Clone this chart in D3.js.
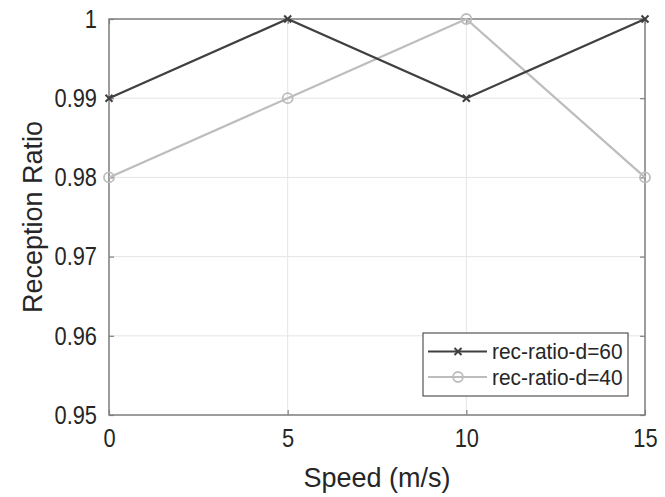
<!DOCTYPE html>
<html>
<head>
<meta charset="utf-8">
<script src="https://cdn.jsdelivr.net/npm/d3@7"></script>
<style>
  html, body { margin: 0; padding: 0; background: #fff; }
  svg { display: block; }
  text { font-family: "Liberation Sans", Arial, Helvetica, sans-serif; fill: #262626; }
</style>
</head>
<body>
<svg id="chart" width="665" height="497"></svg>
<script>
const speeds = [0, 5, 10, 15];
const recRatioD60 = [0.99, 1.00, 0.99, 1.00];
const recRatioD40 = [0.98, 0.99, 1.00, 0.98];
const seriesNames = ["rec-ratio-d=60", "rec-ratio-d=40"];
const xTicks = [0, 5, 10, 15];
const yTicks = [0.95, 0.96, 0.97, 0.98, 0.99, 1];
const yTickLabels = ["0.95", "0.96", "0.97", "0.98", "0.99", "1"];
const xLabel = "Speed (m/s)";
const yLabel = "Reception Ratio";

const svg = d3.select("#chart");
const L = 109, R = 645, T = 19, B = 415;
const x = d3.scaleLinear().domain([0, 15]).range([L, R]);
const y = d3.scaleLinear().domain([0.95, 1]).range([B, T]);

const axisColor = "#808080";
const gridColor = "#e5e5e5";
const narrow = 0.84;

// grid
svg.append("g").selectAll("line").data(xTicks).join("line")
  .attr("x1", d => x(d)).attr("x2", d => x(d)).attr("y1", T).attr("y2", B)
  .attr("stroke", gridColor).attr("stroke-width", 1);
svg.append("g").selectAll("line").data(yTicks).join("line")
  .attr("x1", L).attr("x2", R).attr("y1", d => y(d)).attr("y2", d => y(d))
  .attr("stroke", gridColor).attr("stroke-width", 1);

// axes (MATLAB-style, inward ticks, box)
const tickLen = 5;
const xAxisB = d3.axisBottom(x).tickValues(xTicks).tickSize(-tickLen).tickFormat(d3.format("d")).tickPadding(14);
const yAxisL = d3.axisLeft(y).tickValues(yTicks).tickSize(-tickLen).tickFormat((d, i) => yTickLabels[i]).tickPadding(12);
const xAxisT = d3.axisTop(x).tickValues(xTicks).tickSize(-tickLen).tickFormat("");
const yAxisR = d3.axisRight(y).tickValues(yTicks).tickSize(-tickLen).tickFormat("");

function styleAxis(g) {
  g.selectAll(".tick line").attr("stroke", axisColor).attr("stroke-width", 1.2);
  g.selectAll(".tick text").attr("fill", "#262626").style("font-size", "26px");
}
svg.append("g").attr("transform", `translate(0,${B})`).call(xAxisB).call(styleAxis)
  .call(g => g.selectAll(".tick text").attr("dy", "0.71em")
    .attr("transform", `scale(${narrow},1)`));
svg.append("g").attr("transform", `translate(${L},0)`).call(yAxisL).call(styleAxis)
  .call(g => g.selectAll(".tick text").each(function () {
    const t = d3.select(this);
    t.attr("x", +t.attr("x") / narrow).attr("transform", `scale(${narrow},1)`);
  }));
svg.append("g").attr("transform", `translate(0,${T})`).call(xAxisT).call(styleAxis);
svg.append("g").attr("transform", `translate(${R},0)`).call(yAxisR).call(styleAxis);
svg.selectAll(".domain").remove();
// box
svg.append("rect").attr("x", L).attr("y", T).attr("width", R - L).attr("height", B - T)
  .attr("fill", "none").attr("stroke", axisColor).attr("stroke-width", 1.5);

// axis labels
svg.append("text").attr("x", (L + R) / 2).attr("y", 487).attr("text-anchor", "middle")
  .style("font-size", "27px").text(xLabel);
svg.append("text").attr("transform", `translate(42,${(T + B) / 2}) rotate(-90)`)
  .attr("text-anchor", "middle").style("font-size", "27px").text(yLabel);

// series
const colors = ["#404040", "#bdbdbd"];
const data = [
  speeds.map((s, i) => ({ x: s, y: recRatioD60[i] })),
  speeds.map((s, i) => ({ x: s, y: recRatioD40[i] }))
];
const line = d3.line().x(d => x(d.x)).y(d => y(d.y));

function drawCross(g, cx, cy, c) {
  const r = 3.5;
  g.append("path").attr("d", `M${cx - r},${cy - r}L${cx + r},${cy + r}M${cx - r},${cy + r}L${cx + r},${cy - r}`)
    .attr("stroke", c).attr("stroke-width", 2).attr("fill", "none");
}
function drawCircle(g, cx, cy, c) {
  g.append("circle").attr("cx", cx).attr("cy", cy).attr("r", 5)
    .attr("stroke", c).attr("stroke-width", 1.8).attr("fill", "none");
}

[1, 0].forEach(k => {
  const g = svg.append("g");
  g.append("path").datum(data[k]).attr("d", line).attr("fill", "none")
    .attr("stroke", colors[k]).attr("stroke-width", 2.2);
  data[k].forEach(d => (k === 0 ? drawCross : drawCircle)(g, x(d.x), y(d.y), colors[k]));
});

// legend
const lg = svg.append("g");
lg.append("rect").attr("x", 423).attr("y", 333).attr("width", 205).attr("height", 63)
  .attr("fill", "#fff").attr("stroke", "#333").attr("stroke-width", 1);
seriesNames.forEach((name, k) => {
  const ly = 351.5 + k * 25.5;
  lg.append("line").attr("x1", 428).attr("x2", 487).attr("y1", ly).attr("y2", ly)
    .attr("stroke", colors[k]).attr("stroke-width", 2.2);
  (k === 0 ? drawCross : drawCircle)(lg, 458, ly, colors[k]);
  lg.append("text").attr("x", 492 / 0.95).attr("y", ly).attr("dy", "0.36em")
    .attr("transform", "scale(0.95,1)")
    .style("font-size", "22px").text(name);
});
</script>
</body>
</html>
